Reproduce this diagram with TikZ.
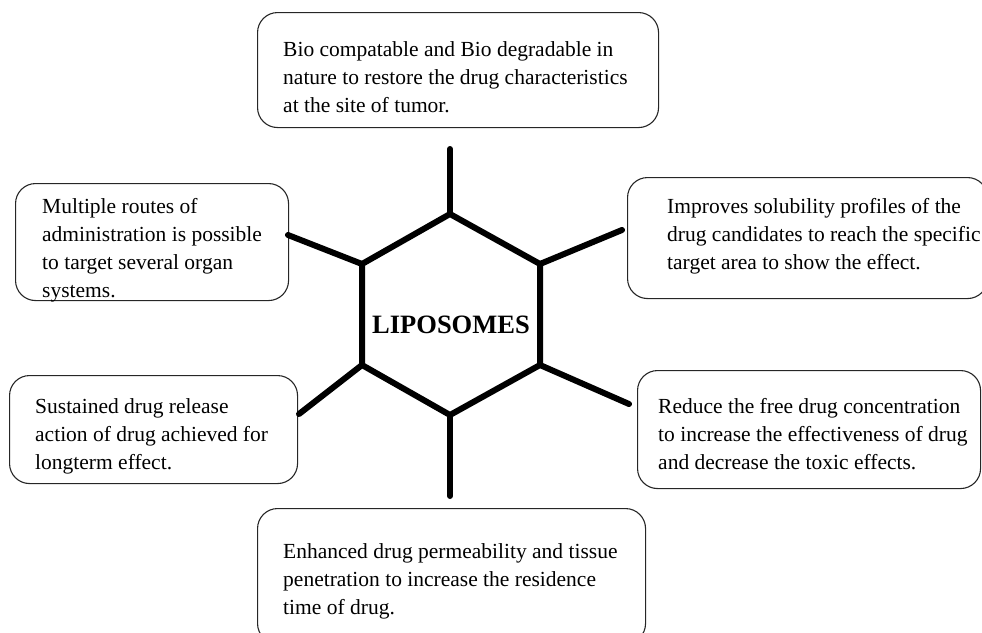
\documentclass[tikz,border=0pt]{standalone}
\usepackage{fontspec}
\setmainfont{Liberation Serif}
\begin{document}
\begin{tikzpicture}[x=1pt,y=-1pt,
  box/.style={draw=black!85, line width=1.1pt, rounded corners=20pt, anchor=north west, inner sep=0pt},
  txt/.style={anchor=base west, inner sep=0pt, font=\fontsize{21.5}{28.3}\selectfont},
  bar/.style={line width=6pt, line cap=round, line join=miter}]
\useasboundingbox (0,0) rectangle (982,632);
\clip (0,0) rectangle (982,632);
% boxes
\node[box, minimum width=401pt, minimum height=115pt] (btop) at (257,12) {};
\node[box, minimum width=273pt, minimum height=117pt] (bul) at (15,183) {};
\node[box, minimum width=360pt, minimum height=121pt] (bur) at (627,177) {};
\node[box, minimum width=288pt, minimum height=108pt] (bll) at (9,375) {};
\node[box, minimum width=343pt, minimum height=118pt] (blr) at (637,370) {};
\node[box, minimum width=388pt, minimum height=135pt] (bbot) at (257,508) {};
% texts
\node[txt] (ttop) at (283,56) {\begin{tabular}[t]{@{}l@{}}Bio compatable and Bio degradable in\\ nature to restore the drug characteristics\\ at the site of tumor.\end{tabular}};
\node[txt] (tul) at (42,213) {\begin{tabular}[t]{@{}l@{}}Multiple routes of\\ administration is possible\\ to target several organ\\ systems.\end{tabular}};
\node[txt] (tur) at (667,213) {\begin{tabular}[t]{@{}l@{}}Improves solubility profiles of the\\ drug candidates to reach the specific\\ target area to show the effect.\end{tabular}};
\node[txt] (tll) at (35,413) {\begin{tabular}[t]{@{}l@{}}Sustained drug release\\ action of drug achieved for\\ longterm effect.\end{tabular}};
\node[txt] (tlr) at (658,413) {\begin{tabular}[t]{@{}l@{}}Reduce the free drug concentration\\ to increase the effectiveness of drug\\ and decrease the toxic effects.\end{tabular}};
\node[txt] (tbot) at (283,558) {\begin{tabular}[t]{@{}l@{}}Enhanced drug permeability and tissue\\ penetration to increase the residence\\ time of drug.\end{tabular}};
% hexagon
\coordinate (vt) at (450,214);
\coordinate (vur) at (540,264);
\coordinate (vlr) at (540,365);
\coordinate (vb) at (450,415);
\coordinate (vll) at (362,365);
\coordinate (vul) at (362,264);
\draw[line width=6pt, line join=miter] (vt) -- (vur) -- (vlr) -- (vb) -- (vll) -- (vul) -- cycle;
% spoke ends
\coordinate (et) at (450,149);
\coordinate (eur) at (622,230);
\coordinate (elr) at (629,404);
\coordinate (eb) at (450,496);
\coordinate (ell) at (299,414);
\coordinate (eul) at (288,235);
\draw[bar] (vt) -- (et);
\draw[bar] (vur) -- (eur);
\draw[bar] (vlr) -- (elr);
\draw[bar] (vb) -- (eb);
\draw[bar] (vll) -- (ell);
\draw[bar] (vul) -- (eul);
\node[anchor=base, inner sep=0pt, font=\fontsize{26.5}{30}\selectfont\bfseries] (lip) at (451,333) {LIPOSOMES};
\end{tikzpicture}
\end{document}
